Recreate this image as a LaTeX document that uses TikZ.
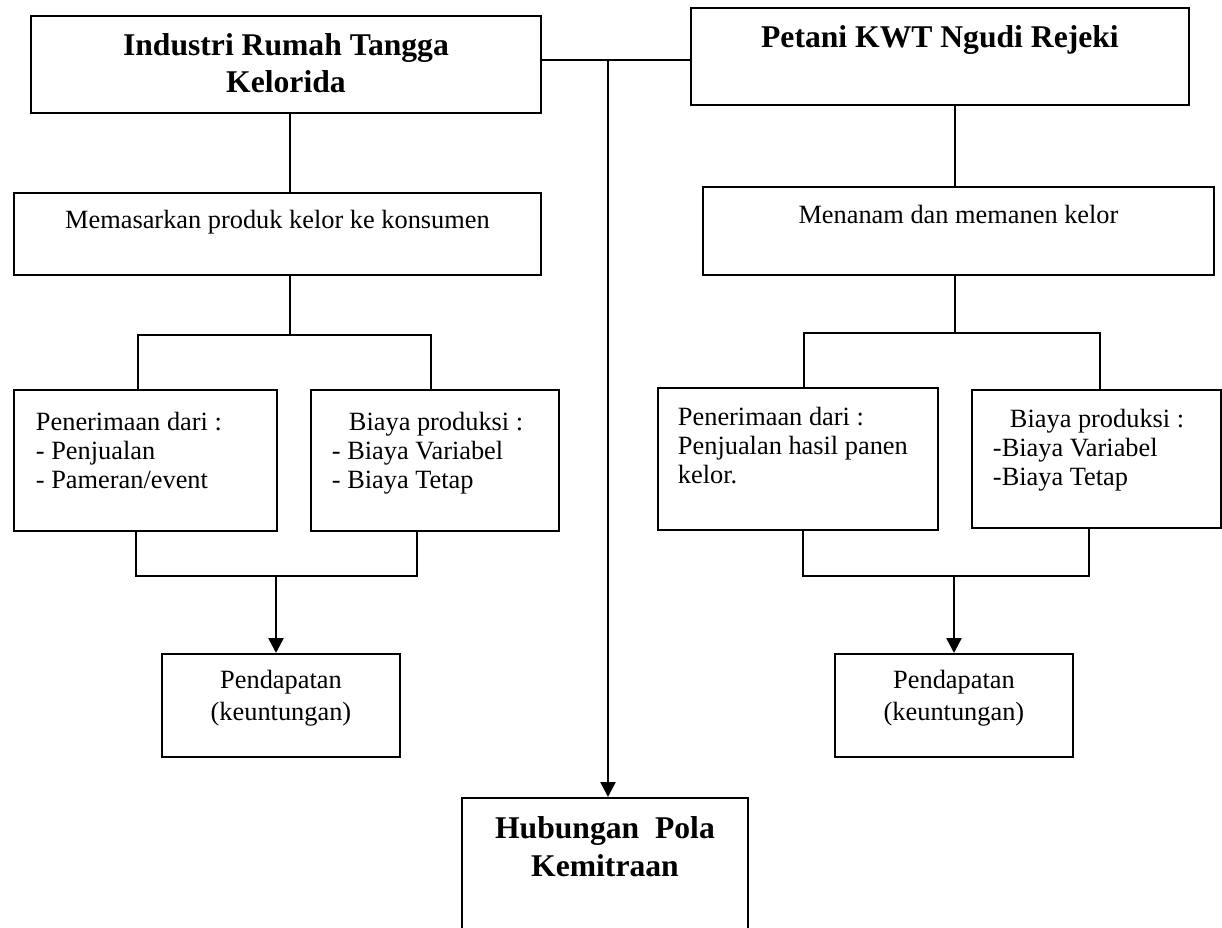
\documentclass[tikz,border=0pt]{standalone}
\usepackage{fontspec}
\setmainfont{Liberation Serif}
\usetikzlibrary{arrows.meta}

\begin{document}
\begin{tikzpicture}[
  box/.style={draw, line width=1.1pt, inner sep=0pt, anchor=north west},
  head/.style={box, align=flush center, font=\bfseries\fontsize{18}{21}\selectfont},
  body/.style={box, font=\fontsize{15}{16.5}\selectfont},
  link/.style={line width=1.1pt},
  arr/.style={line width=1.4pt, -{Triangle[length=0.3cm,width=0.3cm]}}
]
\useasboundingbox (0,0) rectangle (24.44,-18.56);

\node[head, text width=10.2cm, text height=0.8cm, text depth=1.14cm] (irt) at (0.6,-0.3) {Industri Rumah Tangga\\Kelorida};
\node[head, text width=9.96cm, text height=0.8cm, text depth=1.14cm] (kwt) at (13.8,-0.14) {Petani KWT Ngudi Rejeki};

\node[body, align=flush center, text width=10.54cm, text height=0.72cm, text depth=0.92cm] (pasar) at (0.26,-3.84) {Memasarkan produk kelor ke konsumen};
\node[body, align=flush center, text width=10.22cm, text height=0.74cm, text depth=1.02cm] (tanam) at (14.04,-3.72) {Menanam dan memanen kelor};

\node[body, align=flush left, inner xsep=0.44cm, text width=4.38cm, text height=0.82cm, text depth=2cm] (terimaI) at (0.26,-7.78) {Penerimaan dari :\\- Penjualan\\- Pameran/event};
\node[body, align=flush left, inner xsep=0.42cm, text width=4.12cm, text height=0.82cm, text depth=2cm] (biayaI) at (6.2,-7.78) {\hspace*{0.34cm}Biaya produksi :\\- Biaya Variabel\\- Biaya Tetap};
\node[body, align=flush left, inner xsep=0.4cm, text width=4.8cm, text height=0.76cm, text depth=2.08cm] (terimaP) at (13.14,-7.74) {Penerimaan dari :\\Penjualan hasil panen\\kelor.};
\node[body, align=flush left, inner xsep=0.42cm, text width=4.14cm, text height=0.76cm, text depth=2cm] (biayaP) at (19.42,-7.78) {\hspace*{0.34cm}Biaya produksi :\\-Biaya Variabel\\-Biaya Tetap};

\node[body, align=flush center, font=\fontsize{15}{18.2}\selectfont, text width=4.76cm, text height=0.7cm, text depth=1.36cm] (dapatI) at (3.22,-13.06) {Pendapatan\\(keuntungan)};
\node[body, align=flush center, font=\fontsize{15}{18.2}\selectfont, text width=4.76cm, text height=0.7cm, text depth=1.36cm] (dapatP) at (16.68,-13.06) {Pendapatan\\(keuntungan)};

\node[head, font=\bfseries\fontsize{18}{21.6}\selectfont, text width=5.72cm, text height=0.82cm, text depth=1.94cm] (mitra) at (9.22,-15.94) {Hubungan\ \ Pola\\Kemitraan};

\coordinate (jn) at (12.16,-1.2);
\draw[link] (irt.east |- jn) -- (kwt.west |- jn);
\draw[arr] (jn) -- (jn |- mitra.north);

\coordinate (ls) at (5.8,-6.7);
\coordinate (lf1) at (2.76,-6.7);
\coordinate (lf2) at (8.62,-6.7);
\draw[link] (ls |- irt.south) -- (ls |- pasar.north);
\draw[link] (ls |- pasar.south) -- (ls);
\draw[link] (lf1 |- terimaI.north) -- (lf1) -- (lf2) -- (lf2 |- biayaI.north);

\coordinate (lj1) at (2.72,-11.52);
\coordinate (lj2) at (8.34,-11.52);
\coordinate (lm) at (5.52,-11.52);
\draw[link] (lj1 |- terimaI.south) -- (lj1) -- (lj2) -- (lj2 |- biayaI.south);
\draw[arr] (lm) -- (lm |- dapatI.north);

\coordinate (rs) at (19.1,-6.66);
\coordinate (rf1) at (16.08,-6.66);
\coordinate (rf2) at (22.0,-6.66);
\draw[link] (rs |- kwt.south) -- (rs |- tanam.north);
\draw[link] (rs |- tanam.south) -- (rs);
\draw[link] (rf1 |- terimaP.north) -- (rf1) -- (rf2) -- (rf2 |- biayaP.north);

\coordinate (rj1) at (16.06,-11.52);
\coordinate (rj2) at (21.78,-11.52);
\coordinate (rm) at (19.08,-11.52);
\draw[link] (rj1 |- terimaP.south) -- (rj1) -- (rj2) -- (rj2 |- biayaP.south);
\draw[arr] (rm) -- (rm |- dapatP.north);
\end{tikzpicture}
\end{document}
